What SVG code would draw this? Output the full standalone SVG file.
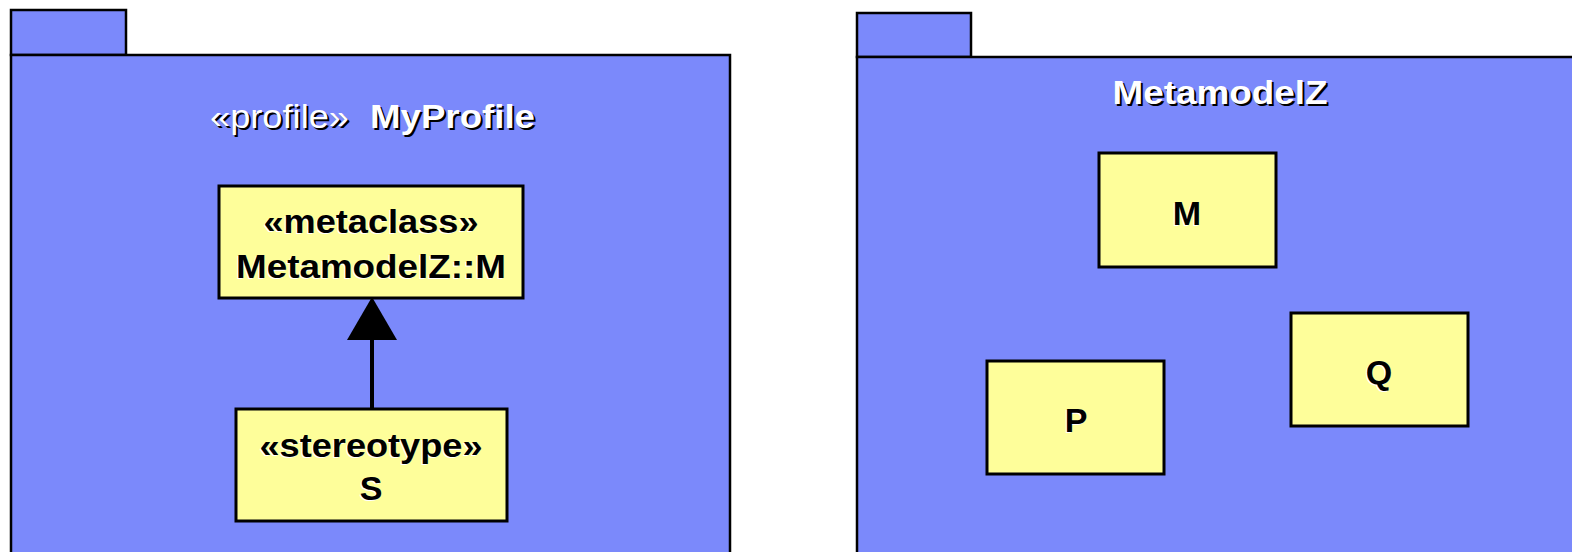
<svg xmlns="http://www.w3.org/2000/svg" width="1572" height="552" viewBox="0 0 1572 552">
<defs>
<style>
.pkg{fill:#7B89FB;stroke:#000;stroke-width:2.5}
.cls{fill:#FEFE9A;stroke:#000;stroke-width:3}
.t{font-family:"Liberation Sans",Arial,sans-serif;font-size:34px}
.b{font-weight:bold}
.lbl{fill:#000;text-anchor:middle}
.lsh{fill:#fff;text-anchor:middle}
.ttl{fill:#fff}
.tsh{fill:#000}
.conn{stroke:#000;stroke-width:4;fill:none}
.head{fill:#000;stroke:none}
</style>
</defs>
<rect width="1572" height="552" fill="#fff"/>
<g id="pkg-myprofile">
<rect class="pkg" x="11" y="10" width="115" height="45"/>
<rect class="pkg" x="11" y="55" width="719" height="510"/>
<text class="t tsh" x="212" y="130" textLength="139" lengthAdjust="spacingAndGlyphs">«profile»</text>
<text class="t ttl" x="210" y="128" textLength="139" lengthAdjust="spacingAndGlyphs">«profile»</text>
<text class="t b tsh" x="372" y="130" textLength="165" lengthAdjust="spacingAndGlyphs">MyProfile</text>
<text class="t b ttl" x="370" y="128" textLength="165" lengthAdjust="spacingAndGlyphs">MyProfile</text>
</g>
<g id="pkg-metamodelz">
<rect class="pkg" x="857" y="13" width="114" height="44"/>
<rect class="pkg" x="857" y="57" width="730" height="510"/>
<text class="t b tsh" x="1222" y="106" text-anchor="middle" textLength="215" lengthAdjust="spacingAndGlyphs">MetamodelZ</text>
<text class="t b ttl" x="1220" y="104" text-anchor="middle" textLength="215" lengthAdjust="spacingAndGlyphs">MetamodelZ</text>
</g>
<g id="node-metaclass">
<rect class="cls" x="219" y="186" width="304" height="112"/>
<text class="t b lsh" x="370" y="234" textLength="215" lengthAdjust="spacingAndGlyphs">«metaclass»</text>
<text class="t b lbl" x="371" y="233" textLength="215" lengthAdjust="spacingAndGlyphs">«metaclass»</text>
<text class="t b lsh" x="370" y="279" textLength="270" lengthAdjust="spacingAndGlyphs">MetamodelZ::M</text>
<text class="t b lbl" x="371" y="278" textLength="270" lengthAdjust="spacingAndGlyphs">MetamodelZ::M</text>
</g>
<g id="node-stereotype">
<rect class="cls" x="236" y="409" width="271" height="112"/>
<text class="t b lsh" x="370" y="458" textLength="223" lengthAdjust="spacingAndGlyphs">«stereotype»</text>
<text class="t b lbl" x="371" y="457" textLength="223" lengthAdjust="spacingAndGlyphs">«stereotype»</text>
<text class="t b lsh" x="370" y="501">S</text>
<text class="t b lbl" x="371" y="500">S</text>
</g>
<g id="node-m">
<rect class="cls" x="1099" y="153" width="177" height="114"/>
<text class="t b lsh" x="1186" y="226">M</text>
<text class="t b lbl" x="1187" y="225">M</text>
</g>
<g id="node-p">
<rect class="cls" x="987" y="361" width="177" height="113"/>
<text class="t b lsh" x="1075" y="433">P</text>
<text class="t b lbl" x="1076" y="432">P</text>
</g>
<g id="node-q">
<rect class="cls" x="1291" y="313" width="177" height="113"/>
<text class="t b lsh" x="1378" y="385">Q</text>
<text class="t b lbl" x="1379" y="384">Q</text>
</g>
<g id="connectors">
<line class="conn" x1="372" y1="409" x2="372" y2="338"/>
<polygon class="head" points="372,297 397,340 347,340"/>
</g>
</svg>
